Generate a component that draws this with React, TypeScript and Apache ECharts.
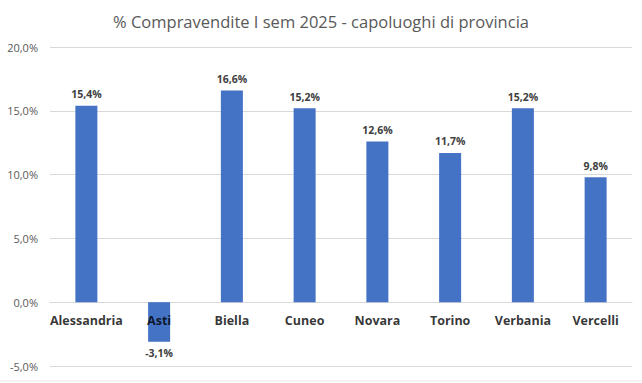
import React, { useEffect, useRef } from "react";
import * as echarts from "echarts";

const categories = ["Alessandria", "Asti", "Biella", "Cuneo", "Novara", "Torino", "Verbania", "Vercelli"];
const values = [15.4, -3.1, 16.6, 15.2, 12.6, 11.7, 15.2, 9.8];
const titleText = "% Compravendite I sem 2025 - capoluoghi di provincia";

const fmt = (v: number) => v.toFixed(1).replace(".", ",") + "%";

export default function App() {
  const ref = useRef<HTMLDivElement>(null);
  useEffect(() => {
    if (!ref.current) return;
    const chart = echarts.init(ref.current, null, { renderer: "svg" });
    chart.setOption({
      animation: false,
      backgroundColor: "#ffffff",
      title: {
        text: titleText,
        left: "center",
        top: 8,
        textStyle: { fontFamily: "Open Sans", fontSize: 16.5, fontWeight: "normal", color: "#595959" },
      },
      grid: { left: 50, right: 10, top: 47, bottom: 17, containLabel: false, outerBoundsMode: "none" },
      xAxis: {
        type: "category",
        data: categories,
        axisLine: { onZero: true, lineStyle: { color: "#d9d9d9" } },
        axisTick: { show: false },
        axisLabel: { show: false },
      },
      yAxis: {
        type: "value",
        min: -5,
        max: 20,
        interval: 5,
        axisLine: { show: false },
        axisTick: { show: false },
        splitLine: { lineStyle: { color: "#d9d9d9" } },
        axisLabel: {
          formatter: (v: number) => fmt(v),
          fontFamily: "Open Sans",
          fontSize: 11,
          color: "#595959",
          margin: 12,
        },
      },
      series: [
        {
          type: "bar",
          data: values,
          barWidth: 22,
          itemStyle: { color: "#4472C4" },
          z: 2,
          label: {
            show: true,
            position: "outside",
            formatter: (p: any) => fmt(p.value),
            fontFamily: "Open Sans",
            fontWeight: "bold",
            fontSize: 10.5,
            color: "#404040",
            distance: 6,
          },
        },
        {
          type: "scatter",
          data: categories.map((c) => [c, 0]),
          symbolSize: 0,
          silent: true,
          z: 5,
          label: {
            show: true,
            position: "bottom",
            distance: 12,
            formatter: (p: any) => p.value[0],
            fontFamily: "Open Sans",
            fontWeight: "bold",
            fontSize: 12.5,
            color: "#000000",
          },
        },
      ],
      graphic: [
        {
          type: "line",
          shape: { x1: 0, y1: 381, x2: 642, y2: 381 },
          style: { stroke: "#e6e6e6", lineWidth: 1 },
        },
      ],
    });
    return () => chart.dispose();
  }, []);
  return <div ref={ref} style={{ width: 642, height: 383, position: "absolute", left: 0, top: 0 }} />;
}
